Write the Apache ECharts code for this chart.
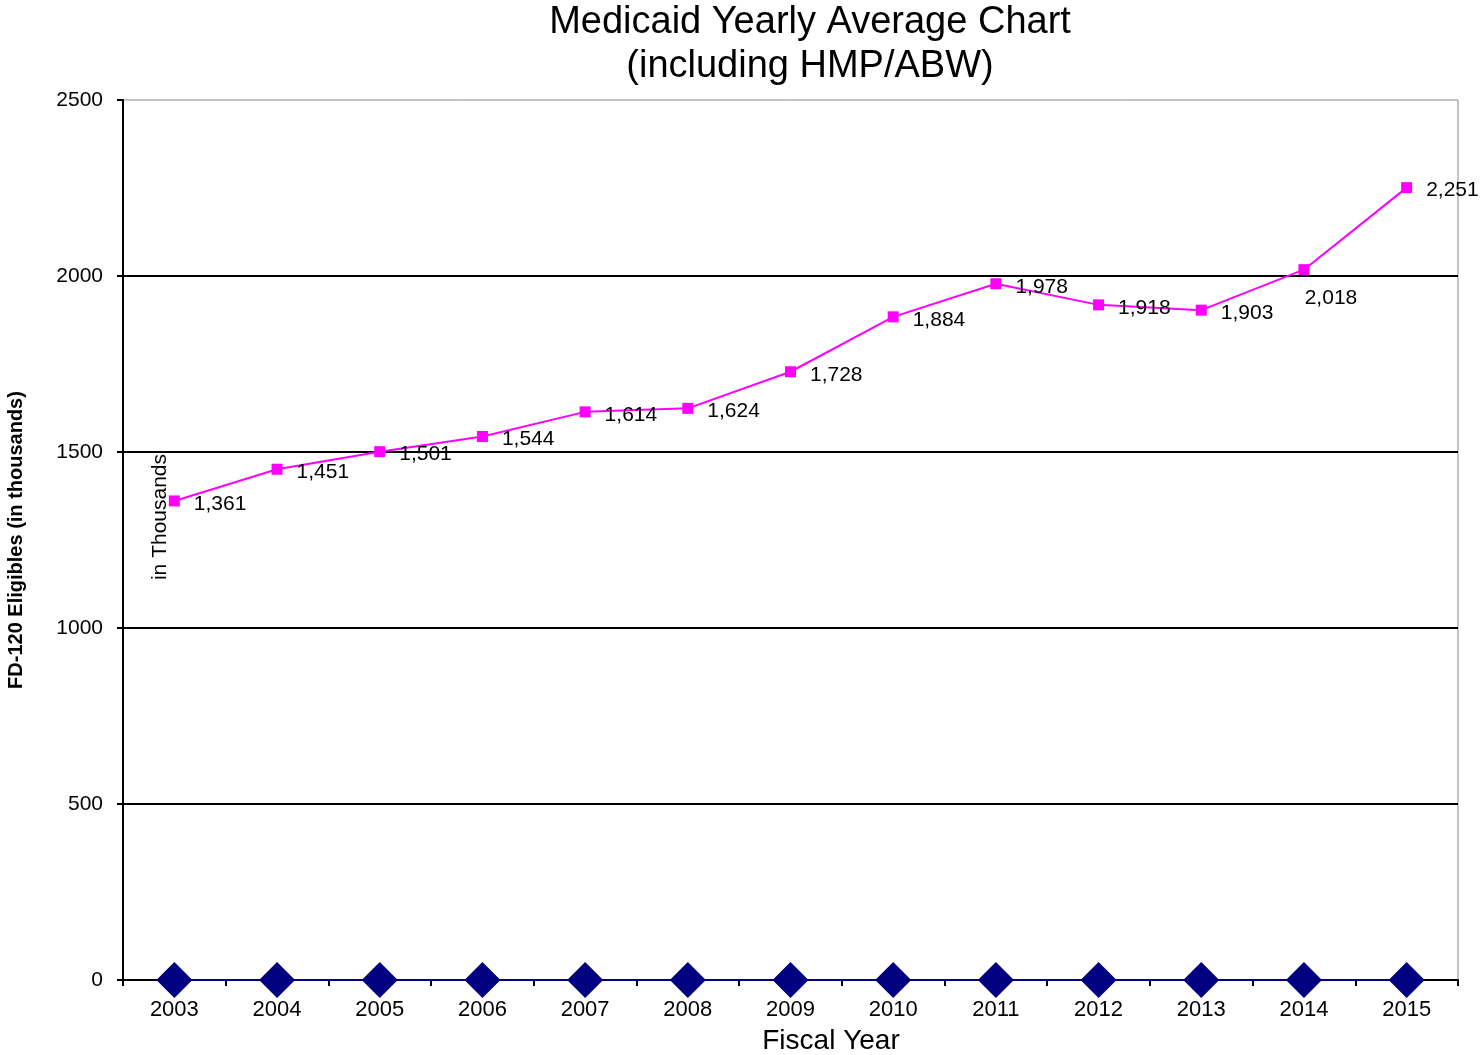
<!DOCTYPE html>
<html><head><meta charset="utf-8">
<script src="https://cdn.jsdelivr.net/npm/echarts@6/dist/echarts.min.js"></script>
<style>html,body{margin:0;padding:0;background:#fff}#c{width:1480px;height:1055px}</style>
</head><body><div id="c"></div>
<script>
const years = ['2003','2004','2005','2006','2007','2008','2009','2010','2011','2012','2013','2014','2015'];
const eligibles = [1361,1451,1501,1544,1614,1624,1728,1884,1978,1918,1903,2018,2251];
const baseline = [0,0,0,0,0,0,0,0,0,0,0,0,0];
const yTicks = [0,500,1000,1500,2000,2500];

const FONT = '"Liberation Sans", Arial, sans-serif';
const chart = echarts.init(document.getElementById('c'), null, {renderer:'canvas'});
const labelData = eligibles.map((v,i)=> i===11
  ? {value:v,label:{position:'bottom',distance:5,offset:[27,8]}}
  : v);
chart.setOption({
  animation:false,
  backgroundColor:'#fff',
  title:{
    text:'Medicaid Yearly Average Chart\n(including HMP/ABW)',
    left:805, top:-4, textAlign:'center',
    textStyle:{fontFamily:FONT,fontSize:38,fontWeight:'normal',color:'#000',lineHeight:44}
  },
  grid:{left:123,right:22,top:100,bottom:75,containLabel:false,outerBoundsMode:'none',
    show:true,borderColor:'#888',borderWidth:1,backgroundColor:'transparent'},
  xAxis:{
    type:'category', data:years, boundaryGap:true,
    axisLine:{lineStyle:{color:'#000',width:2}},
    axisTick:{show:true,length:6,lineStyle:{color:'#000',width:2}},
    axisLabel:{fontFamily:FONT,fontSize:22,color:'#000',margin:19},
    splitLine:{show:false}
  },
  yAxis:{
    type:'value', min:yTicks[0], max:yTicks[yTicks.length-1], interval:500,
    name:'FD-120 Eligibles (in thousands)', nameLocation:'middle', nameGap:97,
    nameTextStyle:{fontFamily:FONT,fontSize:20,fontWeight:'bold',color:'#000'},
    axisLine:{show:true,lineStyle:{color:'#000',width:2}},
    axisTick:{show:true,length:6,lineStyle:{color:'#000',width:2}},
    axisLabel:{fontFamily:FONT,fontSize:21,color:'#000',margin:20,formatter:v=>String(v)},
    splitLine:{show:true,showMaxLine:false,showMinLine:false,lineStyle:{color:'#000',width:2}}
  },
  graphic:[{
    type:'text', x:160, y:517, rotation:Math.PI/2,
    style:{text:'in Thousands',fontFamily:FONT,fontSize:21,fill:'#000',align:'center',verticalAlign:'middle'}
  },{
    type:'text', x:831, y:1041,
    style:{text:'Fiscal Year',fontFamily:FONT,fontSize:28,fill:'#000',align:'center',verticalAlign:'middle'}
  }],
  series:[
    {
      type:'line', data:baseline, symbol:'diamond', symbolSize:36,
      lineStyle:{color:'#000080',width:2}, itemStyle:{color:'#000080'}, z:3
    },
    {
      type:'line', data:labelData, symbol:'rect', symbolSize:11,
      lineStyle:{color:'#FF00FF',width:2}, itemStyle:{color:'#FF00FF'}, z:4,
      label:{show:true,position:'right',distance:14,offset:[0,3],fontFamily:FONT,fontSize:21,color:'#000',
        formatter:p=>Number(p.value).toLocaleString('en-US')}
    }
  ]
});
</script></body></html>
